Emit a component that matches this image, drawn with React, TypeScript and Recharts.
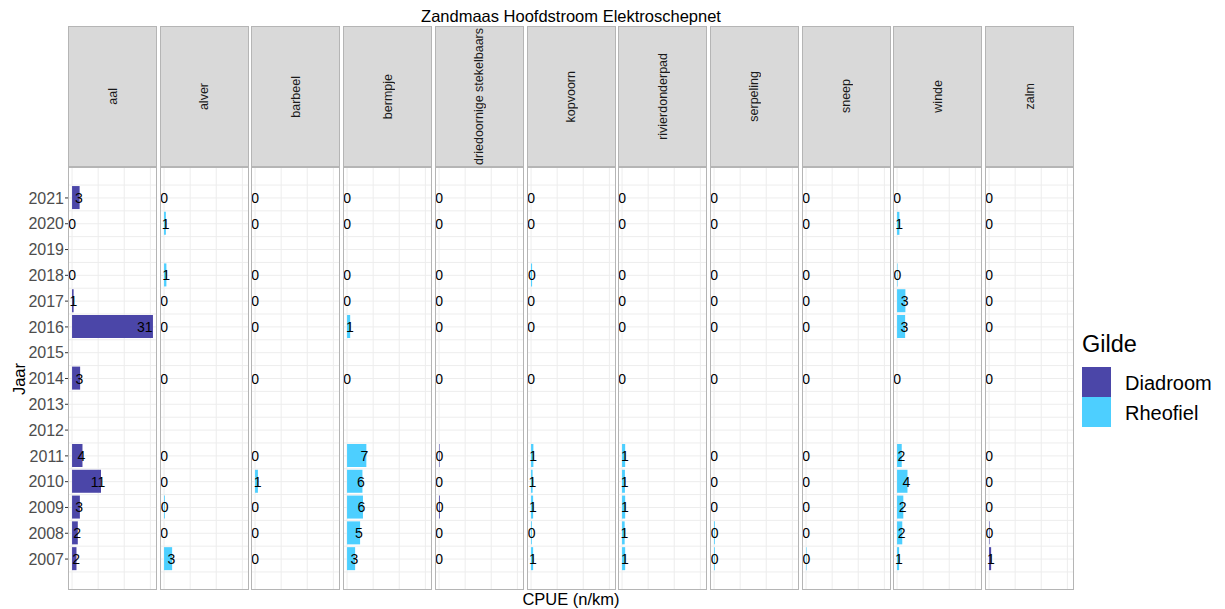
import React from 'react';
import { ComposedChart, Bar, Scatter, XAxis, YAxis, CartesianGrid } from 'recharts';

const chartTitle = 'Zandmaas Hoofdstroom Elektroschepnet';
const xAxisLabel = 'CPUE (n/km)';
const yAxisLabel = 'Jaar';
const legendTitle = 'Gilde';
const guilds = ['Diadroom', 'Rheofiel'];
const guildColors = ['#4B46A8', '#4DCFFF'];

const years = [2021, 2020, 2018, 2017, 2016, 2014, 2011, 2010, 2009, 2008, 2007];
const yearTicks = [2007, 2008, 2009, 2010, 2011, 2012, 2013, 2014, 2015, 2016, 2017, 2018, 2019, 2020, 2021];

const species = ['aal', 'alver', 'barbeel', 'bermpje', 'driedoornige stekelbaars', 'kopvoorn', 'rivierdonderpad', 'serpeling', 'sneep', 'winde', 'zalm'];
const speciesGuild = ['Diadroom', 'Rheofiel', 'Rheofiel', 'Rheofiel', 'Diadroom', 'Rheofiel', 'Rheofiel', 'Rheofiel', 'Rheofiel', 'Rheofiel', 'Diadroom'];

const aal = [2.9, 0, 0, 0.6, 31.0, 3.1, 4.0, 11.1, 3.0, 2.2, 1.7];
const alver = [0, 0.7, 0.9, 0, 0, 0, 0, 0, 0.3, 0, 3.1];
const barbeel = [0, 0, 0, 0, 0, 0, 0, 1.1, 0, 0, 0];
const bermpje = [0, 0, 0, 0, 1.2, 0, 7.4, 5.9, 6.1, 5.0, 3.1];
const driedoornigeStekelbaars = [0, 0, 0, 0, 0, 0, 0.2, 0, 0.3, 0, 0];
const kopvoorn = [0, 0, 0.4, 0, 0, 0, 0.9, 0.6, 0.8, 0.3, 0.8];
const rivierdonderpad = [0, 0, 0, 0, 0, 0, 1.2, 1.1, 1.2, 1.0, 1.2];
const serpeling = [0, 0, 0, 0, 0, 0, 0, 0, 0, 0.3, 0.3];
const sneep = [0, 0, 0, 0, 0, 0, 0, 0, 0, 0, 0.2];
const winde = [0, 0.9, 0.2, 3.2, 3.1, 0, 1.8, 4.0, 2.4, 2.0, 0.8];
const zalm = [0, 0, 0, 0, 0, 0, 0, 0, 0, 0.2, 0.8];

const speciesValues = [aal, alver, barbeel, bermpje, driedoornigeStekelbaars, kopvoorn, rivierdonderpad, serpeling, sneep, winde, zalm];

// labels sit at 90% of the bar length (like position_stack(vjust = 0.9))
const LABEL_FRACTION = 0.9;

const xDomain: [number, number] = [-1.55, 32.55];
const yDomain: [number, number] = [2005.8, 2022.2];
const gridX = [0, 5, 10, 15, 20, 25, 30];
const gridY: number[] = [];
for (let v = 2006.5; v <= 2021.5; v += 0.5) gridY.push(v);

const FONT = '"Liberation Sans", Arial, Helvetica, sans-serif';
const PANEL_LEFT = 68;
const PANEL_STEP = 91.7;
const PANEL_W = 89;
const PANEL_TOP = 167;
const PANEL_H = 423;
const STRIP_TOP = 26;
const AXIS_W = 60;
const BORDER = '#B5B5B5';

function Panel({ idx }: { idx: number }) {
  const values = speciesValues[idx];
  const data = years.map((y, i) => ({ year: y, value: values[i], labelPos: values[i] * LABEL_FRACTION }));
  const color = guildColors[guilds.indexOf(speciesGuild[idx])];
  const showAxis = idx === 0;
  const axisW = showAxis ? AXIS_W : 0;
  const left = PANEL_LEFT + idx * PANEL_STEP;

  const renderLabel = (props: any) => {
    const { cx, cy, payload } = props;
    return (
      <text
        x={cx}
        y={cy}
        textAnchor="middle"
        dominantBaseline="central"
        fontSize={14}
        fontFamily={FONT}
        fill="#000"
      >
        {Math.round(Number(payload.value))}
      </text>
    );
  };

  return (
    <>
      <div
        style={{
          position: 'absolute',
          left: left,
          top: STRIP_TOP,
          width: PANEL_W,
          height: PANEL_TOP - STRIP_TOP,
          background: '#D9D9D9',
          border: `1px solid ${BORDER}`,
          boxSizing: 'border-box',
          display: 'flex',
          alignItems: 'center',
          justifyContent: 'center',
          overflow: 'hidden',
        }}
      >
        <span
          style={{
            writingMode: 'vertical-rl',
            transform: 'rotate(180deg)',
            fontFamily: FONT,
            fontSize: 12.5,
            color: '#1A1A1A',
            whiteSpace: 'nowrap',
          }}
        >
          {species[idx]}
        </span>
      </div>
      <div style={{ position: 'absolute', left: left - axisW, top: PANEL_TOP, width: PANEL_W + axisW, height: PANEL_H }}>
        <ComposedChart
          layout="vertical"
          width={PANEL_W + axisW}
          height={PANEL_H}
          data={data}
          margin={{ top: 0, right: 0, bottom: 0, left: 0 }}
        >
          <CartesianGrid stroke="#EDEDED" strokeWidth={1} horizontalValues={gridY} verticalValues={gridX} />
          <XAxis type="number" domain={xDomain} ticks={gridX} hide allowDataOverflow />
          <YAxis
            type="number"
            dataKey="year"
            domain={yDomain}
            ticks={yearTicks}
            allowDataOverflow
            reversed
            interval={0}
            hide={!showAxis}
            width={showAxis ? AXIS_W : 0}
            axisLine={false}
            tickSize={3}
            tickMargin={1}
            tickLine={{ stroke: '#333333' }}
            tick={{ fill: '#4D4D4D', fontSize: 16, fontFamily: FONT }}
          />
          <Bar dataKey="value" fill={color} barSize={23} isAnimationActive={false} />
          <Scatter dataKey="labelPos" shape={renderLabel} isAnimationActive={false} />
        </ComposedChart>
      </div>
      <div
        style={{
          position: 'absolute',
          left: left,
          top: PANEL_TOP,
          width: PANEL_W,
          height: PANEL_H,
          border: `1px solid ${BORDER}`,
          boxSizing: 'border-box',
          pointerEvents: 'none',
        }}
      />
    </>
  );
}

export default function App() {
  const plotCenter = PANEL_LEFT + (PANEL_STEP * 10 + PANEL_W) / 2;
  return (
    <div style={{ position: 'absolute', left: 0, top: 0, width: 1225, height: 609, background: '#fff', fontFamily: FONT, overflow: 'hidden' }}>
      <div style={{ position: 'absolute', left: plotCenter - 300, width: 600, top: 6, height: 20, lineHeight: '20px', textAlign: 'center', fontSize: 16.5, color: '#000' }}>
        {chartTitle}
      </div>
      {species.map((_, i) => (
        <Panel key={i} idx={i} />
      ))}
      <div style={{ position: 'absolute', left: plotCenter - 150, width: 300, top: 589, height: 20, lineHeight: '20px', textAlign: 'center', fontSize: 16.5, color: '#000' }}>
        {xAxisLabel}
      </div>
      <div
        style={{
          position: 'absolute',
          left: 19 - 50,
          top: 378.5 - 10,
          width: 100,
          height: 20,
          lineHeight: '20px',
          textAlign: 'center',
          fontSize: 16.5,
          color: '#000',
          transform: 'rotate(-90deg)',
        }}
      >
        {yAxisLabel}
      </div>
      <div style={{ position: 'absolute', left: 1082, top: 343.5 - 15, height: 30, lineHeight: '30px', fontSize: 23.5, color: '#000' }}>
        {legendTitle}
      </div>
      {guilds.map((g, i) => (
        <React.Fragment key={g}>
          <div style={{ position: 'absolute', left: 1082, top: 367 + i * 30, width: 29, height: 30, background: guildColors[i] }} />
          <div style={{ position: 'absolute', left: 1125, top: 383 + i * 30 - 12, height: 24, lineHeight: '24px', fontSize: 20, color: '#000' }}>
            {g}
          </div>
        </React.Fragment>
      ))}
    </div>
  );
}
